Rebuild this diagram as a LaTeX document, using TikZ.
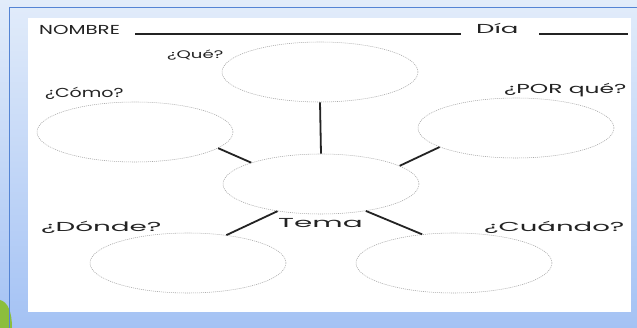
\documentclass[tikz,border=0pt]{standalone}
\usepackage{fontspec}
\setmainfont{Poppins}
\usetikzlibrary{shapes.geometric}
\definecolor{bgtop}{RGB}{226,236,250}
\definecolor{bgbot}{RGB}{164,194,244}
\definecolor{frameblue}{RGB}{84,132,212}
\definecolor{blobgreen}{RGB}{140,190,60}
\definecolor{ink}{RGB}{35,35,35}
\tikzset{
  bubble/.style={ellipse, draw=gray!70, line width=0.55pt, dash pattern=on 1pt off 1pt,
    minimum width=196pt, minimum height=60pt, inner sep=0pt, fill=white},
  spoke/.style={draw=ink, line width=1.8pt},
  lbl/.style={font=\fontsize{13}{15}\selectfont, text=ink, inner sep=0pt, anchor=west},
  rule/.style={draw=ink, line width=1.6pt}
}
\newcommand{\hx}[2]{\scalebox{#1}[1]{#2}}
\begin{document}
\begin{tikzpicture}[x=1pt,y=-1pt]
\useasboundingbox (0,0) rectangle (637,328);
% background
\shade[top color=bgtop, bottom color=bgbot] (0,0) rectangle (637,328);
\fill[blobgreen] (0,300) .. controls (8,302) and (12,312) .. (12,328) -- (0,328) -- cycle;
\draw[frameblue, line width=1pt] (9,328) -- (9,8) -- (637,8);
% white sheet
\fill[white] (28,18) rectangle (631,312);
% header
\node[lbl] (nombre) at (39,30) {\hx{1.52}{NOMBRE}};
\coordinate (n1) at (135,34);
\coordinate (n2) at (461,34);
\draw[rule] (n1) -- (n2);
\node[lbl] (dia) at (476,28) {\hx{2.0}{Día}};
\coordinate (d1) at (539,34);
\coordinate (d2) at (628,34);
\draw[rule] (d1) -- (d2);
% bubbles
\node[bubble] (que) at (320,72) {};
\node[bubble] (como) at (135,132) {};
\node[bubble] (porque) at (516,128) {};
\node[bubble] (tema) at (321,184) {};
\node[bubble] (donde) at (188,263) {};
\node[bubble] (cuando) at (454,263) {};
% spokes
\draw[spoke] (que.south) -- (tema.north);
\draw[spoke] (como.-11) -- (tema.163);
\draw[spoke] (porque.194) -- (tema.13);
\draw[spoke] (tema.212) -- (donde.36);
\draw[spoke] (tema.-31) -- (cuando.138);
% labels
\node[lbl, font=\fontsize{11}{13}\selectfont] (lque) at (167,55) {\hx{1.65}{¿Qué?}};
\node[lbl] (lcomo) at (45,93) {\hx{1.46}{¿Cómo?}};
\node[lbl] (lporque) at (504,90) {\hx{1.8}{¿POR qué?}};
\node[lbl] (ldonde) at (41,227) {\hx{2.14}{¿Dónde?}};
\node[lbl] (ltema) at (278,223) {\hx{2.27}{Tema}};
\node[lbl] (lcuando) at (484,227) {\hx{2.12}{¿Cuándo?}};
\end{tikzpicture}
\end{document}
